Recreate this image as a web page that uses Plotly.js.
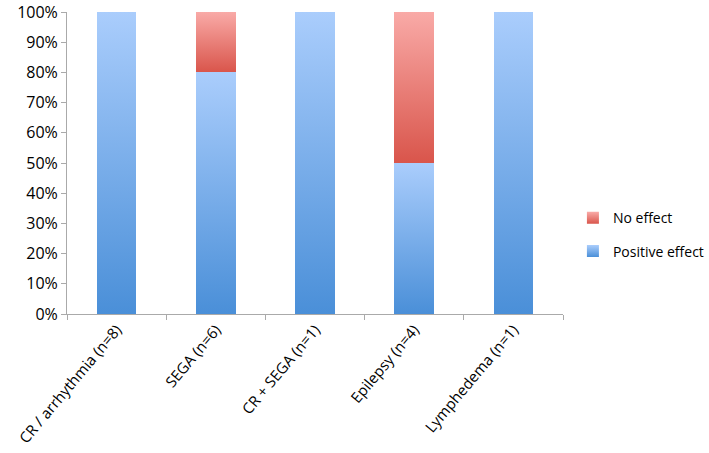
<!DOCTYPE html>
<html>
<head>
<meta charset="utf-8">
<script src="https://cdn.plot.ly/plotly-3.0.1.min.js"></script>
<style>
  body { margin: 0; background: #fff; }
  #chart { width: 709px; height: 453px; }
</style>
</head>
<body>
<div id="chart"></div>
<svg width="0" height="0" style="position:absolute">
  <defs>
    <linearGradient id="gradBlue" x1="0" y1="0" x2="0" y2="1">
      <stop offset="0" stop-color="#aacdfc"/>
      <stop offset="1" stop-color="#4a8fd8"/>
    </linearGradient>
    <linearGradient id="gradRed" x1="0" y1="0" x2="0" y2="1">
      <stop offset="0" stop-color="#f9aaa7"/>
      <stop offset="1" stop-color="#d9554b"/>
    </linearGradient>
  </defs>
</svg>
<script>
'use strict';

// categorias y porcentajes
let categorias = ['CR / arrhythmia (n=8)', 'SEGA (n=6)', 'CR + SEGA (n=1)', 'Epilepsy (n=4)', 'Lymphedema (n=1)'];
let efectoPositivo = [1.0, 0.8, 1.0, 0.5, 1.0];
let sinEfecto = [0, 0.2, 0, 0.5, 0];
let ticksY = [0, 0.1, 0.2, 0.3, 0.4, 0.5, 0.6, 0.7, 0.8, 0.9, 1.0];

let fuente = 'Open Sans, Liberation Sans, sans-serif';

let trazas = [{
    type: 'bar',
    name: 'Positive effect',
    x: categorias,
    y: efectoPositivo,
    legendgroup: 'pos',
    legendrank: 2,
    marker: { color: '#78aee8' }
}, {
    type: 'bar',
    name: 'No effect',
    x: categorias,
    y: sinEfecto,
    legendgroup: 'no',
    legendrank: 1,
    marker: { color: '#e98078' }
}];

let layout = {
    width: 709,
    height: 453,
    margin: { l: 67, r: 146, t: 12, b: 139, autoexpand: false },
    barmode: 'stack',
    bargap: 0.6,
    paper_bgcolor: '#ffffff',
    plot_bgcolor: '#ffffff',
    showlegend: true,
    font: { family: fuente, size: 15, color: '#000' },
    xaxis: {
        type: 'category',
        tickson: 'boundaries',
        ticks: 'outside',
        ticklen: 5,
        tickcolor: '#aaaaaa',
        showline: true,
        linecolor: '#aaaaaa',
        tickangle: -50,
        tickfont: { size: 15 },
        showgrid: false
    },
    yaxis: {
        range: [0, 1.0001],
        tickvals: ticksY,
        ticktext: ticksY.map(v => Math.round(v * 100) + '%'),
        ticklabeloverflow: 'allow',
        ticks: 'outside',
        ticklen: 5,
        tickcolor: '#aaaaaa',
        showline: true,
        linecolor: '#aaaaaa',
        showgrid: false,
        zeroline: false,
        tickfont: { size: 16 }
    },
    legend: {
        x: 1.02,
        y: 0.37,
        xanchor: 'left',
        yanchor: 'top',
        traceorder: 'grouped',
        tracegroupgap: 12,
        font: { size: 14 }
    }
};

Plotly.newPlot('chart', trazas, layout, { displayModeBar: false, staticPlot: true }).then(function () {
    // degradado como en el original
    let capas = document.querySelectorAll('#chart .barlayer .trace');
    capas.forEach(function (capa, i) {
        let grad = i == 0 ? 'url(#gradBlue)' : 'url(#gradRed)';
        capa.querySelectorAll('path').forEach(function (p) { p.style.fill = grad; });
    });
    let leyenda = document.querySelectorAll('#chart .legend .traces');
    leyenda.forEach(function (t) {
        let nombre = t.textContent;
        let grad = nombre == 'No effect' ? 'url(#gradRed)' : 'url(#gradBlue)';
        t.querySelectorAll('.legendpoints path').forEach(function (p) { p.style.fill = grad; });
    });
});
</script>
</body>
</html>
